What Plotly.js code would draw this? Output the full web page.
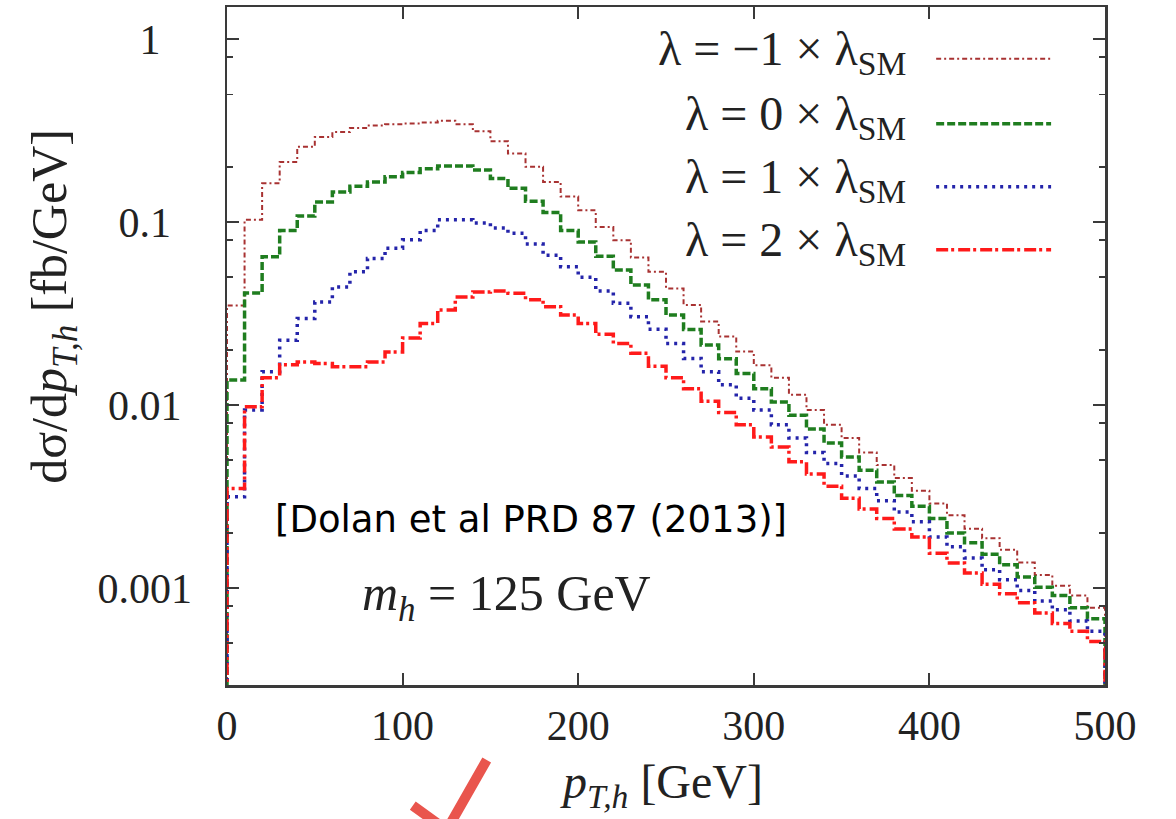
<!DOCTYPE html>
<html><head><meta charset="utf-8">
<script src="https://cdn.plot.ly/plotly-3.0.1.min.js"></script>
<style>html,body{margin:0;padding:0;background:#fff}#chart{width:1176px;height:819px}</style>
</head><body><div id="chart"></div>
<script>
// Histogram bins (lower edges, GeV) and the upper edge of the last bin
const binLow = [0,10,20,30,40,50,60,70,80,90,100,110,120,130,140,150,160,170,180,190,
  200,210,220,230,240,250,260,270,280,290,300,310,320,330,340,350,360,370,380,390,
  400,410,420,430,440,450,460,470,480,490];
const binEnd = 500;
const floorVal = 1e-6; // histogram outline drops below the axis at both ends

const seriesNames = ["λ = −1 × λ<sub>SM</sub>", "λ = 0 × λ<sub>SM</sub>",
                     "λ = 1 × λ<sub>SM</sub>", "λ = 2 × λ<sub>SM</sub>"];

const lamM1 = [0.035,0.103,0.163,0.213,0.258,0.292,0.311,0.327,0.337,0.343,
  0.346,0.350,0.358,0.343,0.314,0.277,0.237,0.201,0.166,0.138,
  0.116,0.094,0.0797,0.064,0.0535,0.0434,0.0353,0.0286,0.0237,0.0196,
  0.0165,0.0141,0.0114,0.0094,0.0078,0.0066,0.0055,0.0047,0.0040,0.0034,
  0.0029,0.0025,0.00211,0.00187,0.00162,0.00138,0.00118,0.00103,0.00091,0.00078];
const lam0 = [0.0137,0.041,0.0646,0.090,0.108,0.129,0.146,0.157,0.166,0.177,
  0.187,0.196,0.203,0.203,0.193,0.173,0.153,0.130,0.113,0.090,
  0.078,0.065,0.0547,0.0453,0.0377,0.0311,0.0259,0.0213,0.0179,0.0149,
  0.0123,0.0104,0.0088,0.0074,0.0062,0.0052,0.0044,0.0038,0.0032,0.0028,
  0.0024,0.0020,0.00177,0.00153,0.00134,0.00115,0.00101,0.00091,0.00078,0.00068];
const lam1 = [0.00315,0.0094,0.0152,0.0226,0.0297,0.0366,0.0442,0.0535,0.0633,0.072,
  0.080,0.090,0.103,0.103,0.099,0.093,0.087,0.076,0.066,0.057,
  0.050,0.042,0.0360,0.0304,0.0260,0.0217,0.0180,0.0152,0.0129,0.0109,
  0.0094,0.0078,0.0066,0.0055,0.0048,0.0041,0.0035,0.0030,0.0026,0.0023,
  0.0019,0.00168,0.00146,0.00126,0.00111,0.00097,0.00085,0.00076,0.00066,0.00058];
const lam2 = [0.0035,0.0098,0.0141,0.0166,0.0172,0.0169,0.0162,0.0162,0.0172,0.0195,
  0.0233,0.0279,0.0331,0.0390,0.0415,0.0420,0.0408,0.0377,0.0345,0.0311,
  0.0279,0.0244,0.0217,0.0192,0.0163,0.0141,0.0123,0.0105,0.0091,0.0078,
  0.0067,0.0059,0.0049,0.0042,0.0036,0.0031,0.0027,0.0024,0.0021,0.0019,
  0.00155,0.00137,0.00121,0.00105,0.00093,0.00083,0.00073,0.00064,0.00058,0.00051];

const xTickVals = [0,100,200,300,400,500];
const yTickVals = [0.001,0.01,0.1,1];
// trailing no-break spaces centre the labels in their column, as in the reference
const yTickText = ["0.001","0.01\u00a0","0.1\u00a0\u00a0","1\u00a0\u00a0\u00a0"];
const yMinorVals = [0.0005,0.0008,0.002,0.005,0.008,0.02,0.05,0.08,0.2,0.5,0.8];

const allSeries = [lamM1, lam0, lam1, lam2];
const styles = [
  {color:'#a83232', width:2,   dash:'5px,3px,2px,3px'},
  {color:'#1f7d1f', width:3.5, dash:'8px,3px'},
  {color:'#2424aa', width:3.5, dash:'3px,5px'},
  {color:'#ff1a1a', width:3.5, dash:'12px,3px,3px,4px'}
];

const stepX = [binLow[0]].concat(binLow, [binEnd]);
const traces = allSeries.map((vals, i) => ({
  type:'scatter', mode:'lines', name: seriesNames[i],
  x: stepX,
  y: [floorVal].concat(vals, [floorVal]),
  line: Object.assign({shape:'hv'}, styles[i]),
  showlegend:false, hoverinfo:'skip'
}));

const serif = '"Liberation Serif", "DejaVu Serif", serif';
const axisCol = '#3a3a3a';

// legend built to the reference's "text then sample line" layout
const legY = [0.9336, 0.8378, 0.7448, 0.6519];
const annotations = seriesNames.map((t, i) => ({
  xref:'paper', yref:'paper', x:0.776, y:legY[i], xanchor:'right', yanchor:'middle',
  text:t, showarrow:false, font:{family:serif, size:48, color:'#222'}
}));
const shapes = styles.map((s, i) => ({
  type:'line', xref:'paper', yref:'paper', x0:0.8077, x1:0.9386, y0:legY[i]-0.01, y1:legY[i]-0.01,
  line:{color:s.color, width:s.width, dash:s.dash}
}));

annotations.push(
  {xref:'paper', yref:'paper', x:0.0523, y:0.2434, xanchor:'left', yanchor:'middle',
   text:'[Dolan et al PRD 87 (2013)]', showarrow:false,
   font:{family:'"DejaVu Sans", sans-serif', size:37, color:'#000'}},
  {xref:'paper', yref:'paper', x:0.151, y:0.13, xanchor:'left', yanchor:'middle',
   text:'<i>m</i><sub><i>h</i></sub> = 125 GeV', showarrow:false,
   font:{family:serif, size:50, color:'#222'}},
  {xref:'paper', yref:'paper', x:-0.198, y:0.558, xanchor:'center', yanchor:'middle', textangle:-90,
   text:'dσ/d<i>p</i><sub><i>T,h</i></sub> [fb/GeV]', showarrow:false,
   font:{family:serif, size:50, color:'#222'}},
  {xref:'paper', yref:'paper', x:0.495, y:-0.148, xanchor:'center', yanchor:'middle',
   text:'<i>p</i><sub><i>T,h</i></sub> [GeV]', showarrow:false,
   font:{family:serif, size:48, color:'#222'}}
);

// hand-drawn check mark below the axis
shapes.push({type:'path', xref:'paper', yref:'paper',
  path:'M 0.2116 -0.178 L 0.2503 -0.214 L 0.2958 -0.1106',
  line:{color:'#e9554d', width:10}});

const layout = {
  width:1176, height:819,
  margin:{l:227, r:71, t:7, b:134},
  paper_bgcolor:'#fff', plot_bgcolor:'#fff',
  xaxis:{range:[0,500], tickmode:'array', tickvals:xTickVals,
    ticks:'inside', ticklen:12, tickwidth:2, tickcolor:axisCol,
    showline:true, linecolor:axisCol, linewidth:2.5, mirror:'ticks',
    showgrid:false, zeroline:false, ticklabelstandoff:2,
    tickfont:{family:serif, size:42, color:'#222'}},
  yaxis:{type:'log', range:[-3.53, 0.176], tickmode:'array', tickvals:yTickVals, ticktext:yTickText,
    ticks:'inside', ticklen:12, tickwidth:2, tickcolor:axisCol,
    showline:true, linecolor:axisCol, linewidth:2.5, mirror:'ticks',
    showgrid:false, zeroline:false, ticklabelstandoff:24,
    minor:{tickmode:'array', tickvals:yMinorVals, ticks:'inside', ticklen:6, tickwidth:1.5, tickcolor:axisCol, showgrid:false},
    tickfont:{family:serif, size:42, color:'#222'}},
  annotations: annotations,
  shapes: shapes
};

Plotly.newPlot('chart', traces, layout, {staticPlot:true, displayModeBar:false});
</script>
</body></html>
